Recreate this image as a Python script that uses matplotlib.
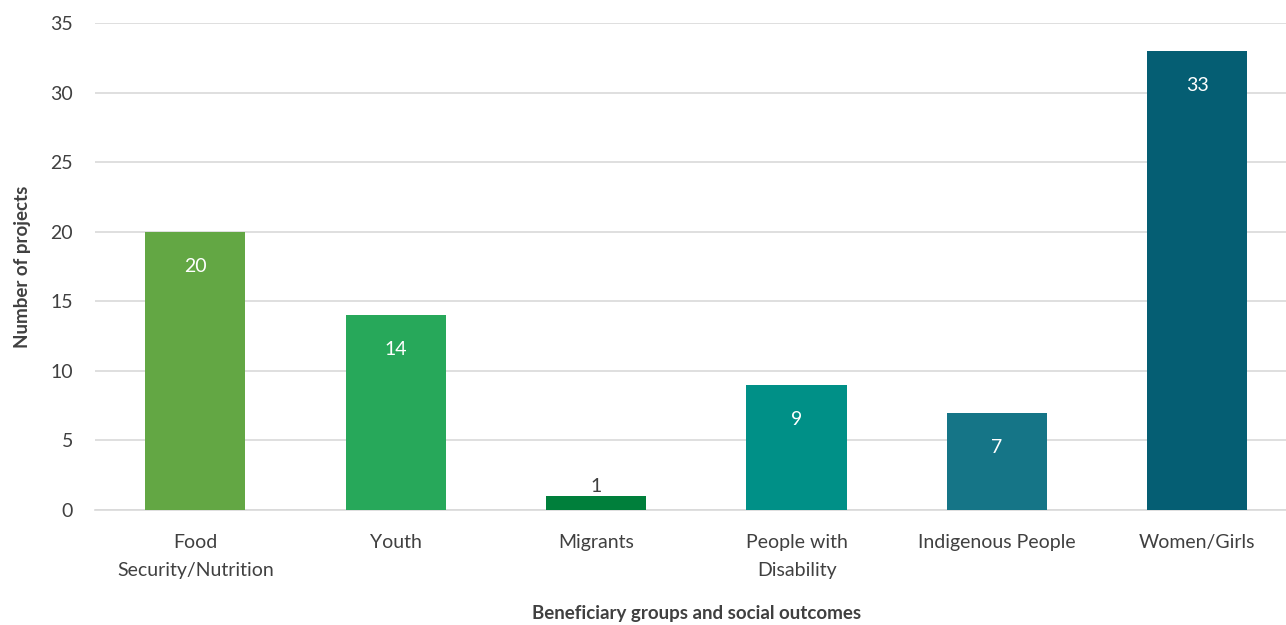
import matplotlib.pyplot as plt

categories = ["Food\nSecurity/Nutrition", "Youth", "Migrants", "People with\nDisability",
              "Indigenous People", "Women/Girls"]
counts = [20, 14, 1, 9, 7, 33]
colors = ["#63A744", "#27A85A", "#007F3B", "#009087", "#157587", "#055E73"]

plt.rcParams['font.family'] = ['Lato', 'DejaVu Sans']

fig = plt.figure(figsize=(12.86, 6.25), dpi=100)
ax = fig.add_axes([0.074, 0.184, 0.935, 0.779])

x = range(len(categories))
bars = ax.bar(x, counts, width=0.5, color=colors, zorder=3)

# value labels: inside the bar near the top, above the bar if it is too short
for b, v in zip(bars, counts):
    cx = b.get_x() + b.get_width() / 2
    if v >= 3:
        ax.annotate(str(v), (cx, v), xytext=(0, -25), textcoords='offset points',
                    ha='center', va='center', color='white', fontsize=14)
    else:
        ax.annotate(str(v), (cx, v), xytext=(0, 1), textcoords='offset points',
                    ha='center', va='bottom', color='#404040', fontsize=14)

ax.set_xlim(-0.5, len(categories) - 0.5)
ax.set_ylim(0, 35)
ax.set_yticks(range(0, 36, 5))
ax.set_xticks(list(x))
ax.set_xticklabels(categories, fontsize=14, color='#404040', linespacing=1.8)
ax.tick_params(axis='y', labelsize=14, labelcolor='#404040', length=0, pad=16)
ax.tick_params(axis='x', length=0, pad=17)

ax.grid(axis='y', color='#D9D9D9', linewidth=1.2, zorder=0)
for s in ['top', 'right', 'left']:
    ax.spines[s].set_visible(False)
ax.spines['bottom'].set_color('#D9D9D9')
ax.spines['bottom'].set_linewidth(1.2)

ax.set_ylabel("Number of projects", fontsize=13.5, fontweight='bold', color='#404040', labelpad=14)
ax.set_xlabel("Beneficiary groups and social outcomes", fontsize=13.5, fontweight='bold',
              color='#404040', labelpad=19)

fig.savefig("out.png", dpi=100)
